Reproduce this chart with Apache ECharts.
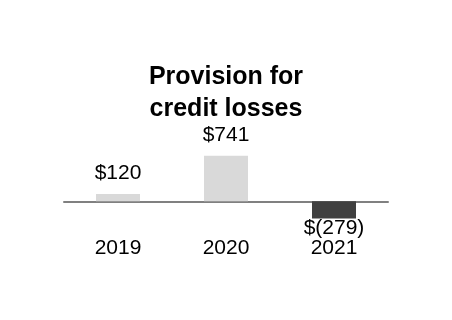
<!DOCTYPE html>
<html><head><meta charset="utf-8">
<script src="https://cdn.jsdelivr.net/npm/echarts@6/dist/echarts.min.js"></script>
<style>html,body{margin:0;padding:0;background:#fff}#c{width:452px;height:320px}</style>
</head><body><div id="c"></div>
<script>
const title = 'Provision for\ncredit losses';
const categories = ['2019', '2020', '2021'];
const values = [120, 741, -279];
const labels = ['$120', '$741', '$(279)'];

const chart = echarts.init(document.getElementById('c'), null, {renderer: 'canvas'});
const font = 'Liberation Sans, Arial, sans-serif';
chart.setOption({
  animation: false,
  title: {
    text: title, left: 'center', top: 56,
    textStyle: {fontFamily: font, fontSize: 25, fontWeight: 'bold', color: '#000', lineHeight: 32}
  },
  grid: {left: 64, right: 64, top: 152, bottom: 94},
  xAxis: {
    type: 'category', data: categories,
    axisLine: {onZero: true, lineStyle: {color: '#808080', width: 2}},
    axisTick: {show: false},
    axisLabel: {margin: 12, fontFamily: font, fontSize: 21, color: '#000'}
  },
  yAxis: {type: 'value', min: -400, max: 800, show: false, splitLine: {show: false}},
  series: [{
    type: 'bar', barWidth: 44,
    data: values.map((v, i) => ({
      value: v,
      itemStyle: {color: v < 0 ? '#404040' : '#d9d9d9'},
      label: {
        show: true, position: v < 0 ? 'bottom' : 'top', distance: v < 0 ? -1 : 10,
        formatter: labels[i], fontFamily: font, fontSize: 21, color: '#000'
      }
    }))
  }]
});
</script></body></html>
